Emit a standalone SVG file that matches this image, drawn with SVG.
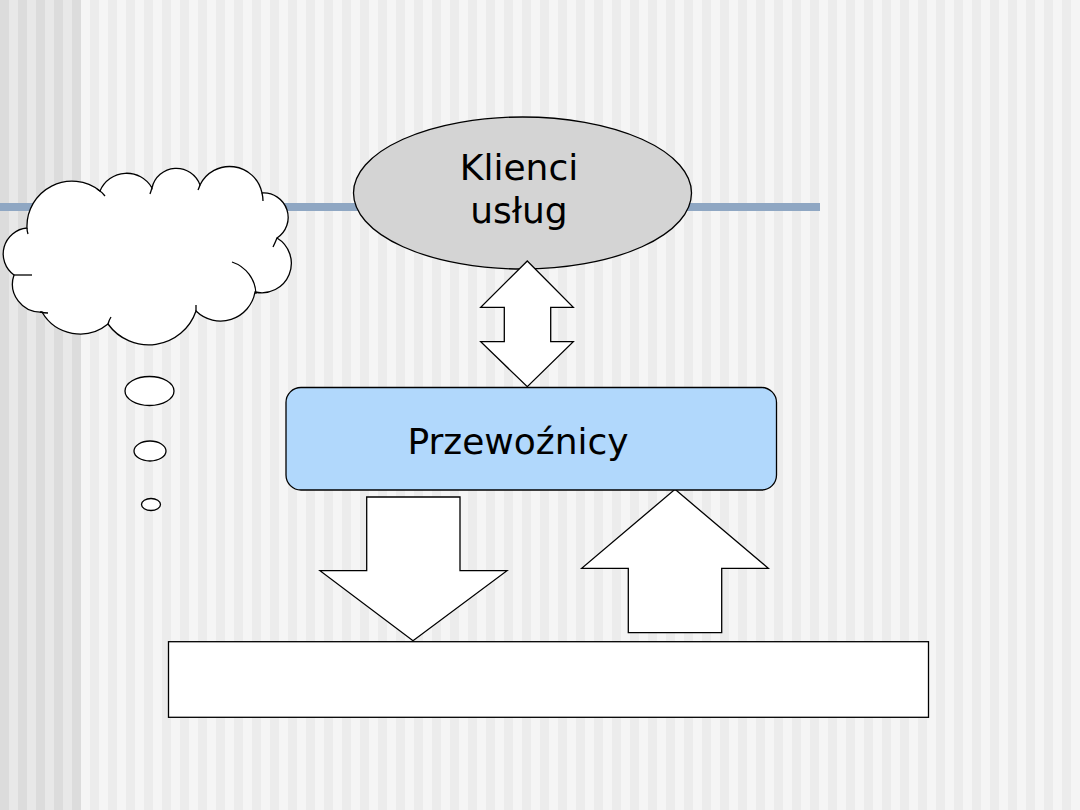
<svg xmlns="http://www.w3.org/2000/svg" width="1080" height="810" viewBox="0 0 1080 810">
<defs>
<pattern id="stripes" x="0" y="0" width="18" height="810" patternUnits="userSpaceOnUse">
<rect x="0" y="0" width="9" height="810" fill="#ececec"/>
<rect x="9" y="0" width="9" height="810" fill="#f5f5f5"/>
</pattern>
<pattern id="stripesDark" x="0" y="0" width="18" height="810" patternUnits="userSpaceOnUse">
<rect x="0" y="0" width="9" height="810" fill="#dcdcdc"/>
<rect x="9" y="0" width="9" height="810" fill="#e8e8e8"/>
</pattern>
</defs>
<style>
.shape{stroke:#000;stroke-width:1.3;stroke-linejoin:miter}
.txt{font-family:"DejaVu Sans","Liberation Sans",sans-serif;font-size:36px;fill:#000;text-anchor:middle}
.tail{fill:none;stroke:#000;stroke-width:1.3}
</style>
<rect x="0" y="0" width="1080" height="810" fill="url(#stripes)"/>
<rect x="0" y="0" width="81" height="810" fill="url(#stripesDark)"/>
<rect x="0" y="203" width="820" height="8" fill="#8fa7c3"/>

<g id="cloud">
<path class="shape" fill="#fff" d="M 27,228 A 45 45 0 0 1 100,191 A 29 29 0 0 1 152,188 A 25 25 0 0 1 200,185 A 33 33 0 0 1 262,193 A 24.5 24.5 0 0 1 277,238 A 29.5 29.5 0 0 1 255,292 A 35 35 0 0 1 196,311 A 50 50 0 0 1 108,324 A 44 44 0 0 1 42,312 A 28 28 0 0 1 14,275 A 26 26 0 0 1 27,228 Z"/>
<path class="tail" d="M 27,228 Q 27,231 28,234"/>
<path class="tail" d="M 97,189 Q 102,192 105,196"/>
<path class="tail" d="M 152,188 Q 151,191 150,194"/>
<path class="tail" d="M 200,185 Q 199,188 198,190"/>
<path class="tail" d="M 262,193 Q 263,197 263,201"/>
<path class="tail" d="M 277,238 Q 275,243 273,247"/>
<path class="tail" d="M 232,262 A 35 35 0 0 1 256,294"/>
<path class="tail" d="M 196,311 Q 196,308 196,305"/>
<path class="tail" d="M 108,324 Q 109,320 111,317"/>
<path class="tail" d="M 40,312 Q 44,313 48,313"/>
<path class="tail" d="M 14,275 Q 23,275 32,275"/>
</g>
<g id="bubble1"><ellipse class="shape" fill="#fff" cx="149.5" cy="391" rx="24.5" ry="14.5"/></g>
<g id="bubble2"><ellipse class="shape" fill="#fff" cx="150" cy="451" rx="16" ry="10"/></g>
<g id="bubble3"><ellipse class="shape" fill="#fff" cx="151" cy="504.5" rx="9.5" ry="6"/></g>

<g id="klienci">
<ellipse class="shape" fill="#d4d4d4" cx="522.5" cy="193" rx="169" ry="76"/>
<text class="txt" x="519" y="180">Klienci</text>
<text class="txt" x="519" y="223">usług</text>
</g>

<g id="connectors">
<polygon class="shape" fill="#fff" points="527.3,261 573.3,307.3 550.7,307.3 550.7,341.7 573.3,341.7 527.3,386.7 480.7,341.7 504.3,341.7 504.3,307.3 480.7,307.3"/>
<polygon class="shape" fill="#fff" points="366.7,497 460,497 460,570.7 507,570.7 413,640.7 320,570.7 366.7,570.7"/>
<polygon class="shape" fill="#fff" points="675,489.3 768.3,568.3 721.7,568.3 721.7,632.7 628.3,632.7 628.3,568.3 581.7,568.3"/>
</g>

<g id="przewoznicy">
<rect class="shape" fill="#b1d8fc" x="286" y="387.5" width="490.5" height="102.5" rx="15" ry="15"/>
<text class="txt" x="518" y="454">Przewoźnicy</text>
</g>

<g id="bottom-box">
<rect class="shape" fill="#fff" x="168.5" y="641.7" width="760" height="75.6"/>
</g>
</svg>
